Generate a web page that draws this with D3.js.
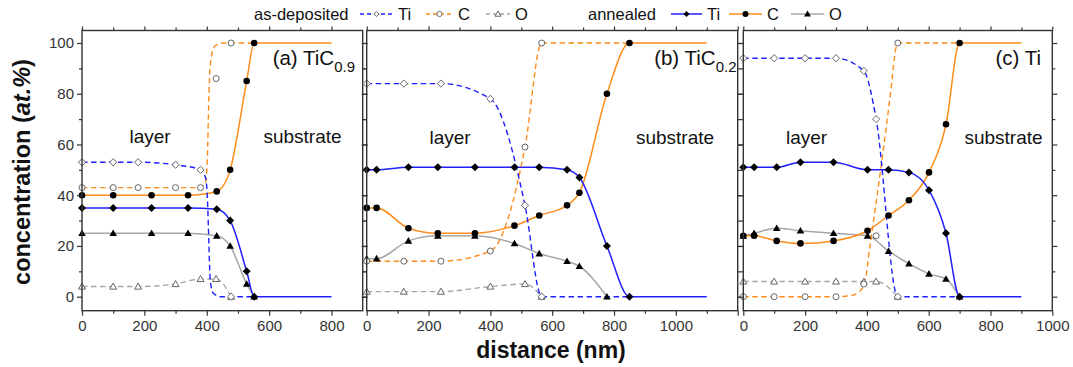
<!DOCTYPE html>
<html><head><meta charset="utf-8">
<script src="https://cdn.jsdelivr.net/npm/d3@7"></script>
<style>body{margin:0;background:#fff}svg{display:block}text{font-family:"Liberation Sans",Arial,sans-serif}</style>
</head><body>
<svg id="chart" width="1073" height="367"></svg>
<script>
// ---------- data ----------
const panelNames = ["a", "b", "c"];
const panelTitles = ["(a) TiC", "(b) TiC", "(c) Ti"];
const panelSubs = ["0.9", "0.2", ""];
const xMaxes = [900, 1200, 1000];
const xEnds = [800, 1100, 900];
const xLabelMaxes = [800, 1000, 1000];
const xTickStep = 200;
const yTicks = [0, 20, 40, 60, 80, 100];

// panel (a) TiC0.9
const aDepX = [0, 100, 180, 300, 380, 430, 478];
const aDepTi = [53, 53, 53, 52, 50, null, 0];
const aDepC = [43, 43, 43, 43, 43, 86, 100];
const aDepO = [4, 4, 4, 5, 7, 7, 0];
const aAnnX = [0, 100, 223, 340, 432, 475, 528, 552];
const aAnnTi = [35, 35, 35, 35, 34.5, 30, 10, 0];
const aAnnC = [40, 40, 40, 40, 41.5, 50, 85, 100];
const aAnnO = [25, 25, 25, 25, 24, 20, 5, 0];
// fitted (as drawn) curves that do not pass through every marker
const aDepTiCurveX = [0, 100, 180, 300, 380, 397, 403, 407, 411, 420, 445, 478];
const aDepTiCurveY = [53, 53, 53, 52, 50, 46.5, 36, 20, 7, 1.5, 0, 0];
const aDepCCurveX = [0, 100, 180, 300, 380, 395, 402, 406, 411, 424, 450, 478];
const aDepCCurveY = [43, 43, 43, 43, 43, 44.5, 55, 75, 91, 98.5, 100, 100];

// panel (b) TiC0.2
const bDepX = [0, 120, 240, 400, 512, 566];
const bDepTi = [84, 84, 84, 78, 36, 0];
const bDepC = [14, 14, 14, 18, 59, 100];
const bDepO = [2, 2, 2, 4, 5, 0];
const bAnnX = [0, 32, 135, 230, 350, 478, 558, 648, 688, 777, 850];
const bAnnTi = [50, 50, 51, 51, 51, 51, 51, 50, 47, 20, 0];
const bAnnC = [35, 35, 27, 25, 25, 28, 32, 36, 41, 80, 100];
const bAnnO = [15, 15, 22, 24, 24, 21, 17, 14, 12, 0, null];

// panel (c) Ti
const cDepX = [0, 100, 200, 300, 390, 430, 500];
const cDepTi = [94, 94, 94, 94, 89, 70, 0];
const cDepC = [0, 0, 0, 0, 5, 24, 100];
const cDepO = [6, 6, 6, 6, 6, 6, 0];
const cAnnX = [0, 35, 108, 185, 292, 402, 470, 536, 601, 656, 700];
const cAnnTi = [51, 51, 51, 53, 53, 50, 50, 49, 42, 25, 0];
const cAnnC = [24, 24, 22, 21, 22, 26, 32, 38, 49, 68, 100];
const cAnnO = [24, 25, 27, 26, 25, 24, 18, 13, 9, 7, 0];
const cDepCCurveX = [0, 100, 200, 300, 350, 375, 392, 410, 480, 493, 500];
const cDepCCurveY = [0, 0, 0, 0, 0.5, 2, 5, 20, 84, 97.5, 100];

// ---------- layout / style ----------
const colTi = "#1f1fff", colC = "#ff8c1a", colO = "#a6a6a6", axisCol = "#333";
const pxRanges = [[82, 362.7], [366.7, 737.7], [743.3, 1052.3]];
const titleRight = [355, 736.5, 1041];
const yTop = 30.5, yBot = 310.7;
const y = d3.scaleLinear().domain([0, 100]).range([296.7, 43]);
const svg = d3.select("#chart");

const zip = (xs, ys) => xs.map((v, i) => [v, ys[i]]).filter(d => d[1] !== null && d[1] !== undefined);
const panels = [
  {dep: {x: aDepX, Ti: aDepTi, C: aDepC, O: aDepO}, ann: {x: aAnnX, Ti: aAnnTi, C: aAnnC, O: aAnnO},
   curves: {Ti: zip(aDepTiCurveX, aDepTiCurveY), C: zip(aDepCCurveX, aDepCCurveY)}},
  {dep: {x: bDepX, Ti: bDepTi, C: bDepC, O: bDepO}, ann: {x: bAnnX, Ti: bAnnTi, C: bAnnC, O: bAnnO}, curves: {}},
  {dep: {x: cDepX, Ti: cDepTi, C: cDepC, O: cDepO}, ann: {x: cAnnX, Ti: cAnnTi, C: cAnnC, O: cAnnO},
   curves: {C: zip(cDepCCurveX, cDepCCurveY)}}
];
const cols = {Ti: colTi, C: colC, O: colO};

function markerPath(kind, r) {
  if (kind === "Ti") return `M0,${-r}L${r},0L0,${r}L${-r},0Z`;
  if (kind === "O") { const h = r * 1.15; return `M0,${-h}L${h},${h * 0.75}L${-h},${h * 0.75}Z`; }
  return d3.symbol().type(d3.symbolCircle).size(Math.PI * r * r)();
}

panels.forEach((p, i) => {
  const x = d3.scaleLinear().domain([0, xMaxes[i]]).range(pxRanges[i]);
  const g = svg.append("g");
  const line = d3.line().x(d => x(d[0])).y(d => y(d[1])).curve(d3.curveMonotoneX);
  const annEnd = p.ann.x[p.ann.x.length - 1];

  // annealed lines
  ["O", "C", "Ti"].forEach(k => {
    const pts = zip(p.ann.x, p.ann[k]);
    if (k !== "O") pts.push([xEnds[i], pts[pts.length - 1][1]]);
    g.append("path").attr("d", line(pts)).attr("fill", "none")
      .attr("stroke", cols[k]).attr("stroke-width", 1.5);
  });
  // as-deposited lines
  ["O", "C", "Ti"].forEach(k => {
    let pts = p.curves[k] ? p.curves[k].slice() : zip(p.dep.x, p.dep[k]);
    if (k !== "O") pts.push([annEnd, pts[pts.length - 1][1]]);
    g.append("path").attr("d", line(pts)).attr("fill", "none")
      .attr("stroke", cols[k]).attr("stroke-width", 1.4).attr("stroke-dasharray", "5.5,3.5");
  });
  // markers
  ["O", "C", "Ti"].forEach(k => {
    g.selectAll(null).data(zip(p.dep.x, p.dep[k])).join("path")
      .attr("transform", d => `translate(${x(d[0])},${y(d[1])})`)
      .attr("d", markerPath(k, k === "Ti" ? 3.6 : 3)).attr("fill", "#fff")
      .attr("stroke", "#666").attr("stroke-width", 1);
    g.selectAll(null).data(zip(p.ann.x, p.ann[k])).join("path")
      .attr("transform", d => `translate(${x(d[0])},${y(d[1])})`)
      .attr("d", markerPath(k, k === "Ti" ? 4 : 3.3)).attr("fill", "#000");
  });

  // frame
  g.append("rect").attr("x", pxRanges[i][0]).attr("y", yTop)
    .attr("width", pxRanges[i][1] - pxRanges[i][0]).attr("height", yBot - yTop)
    .attr("fill", "none").attr("stroke", axisCol).attr("stroke-width", 1.4);

  // x axes
  const major = d3.range(0, xMaxes[i] + 1, xTickStep);
  const minor = d3.range(100, xMaxes[i], xTickStep);
  const xb = g.append("g").attr("transform", `translate(0,${yBot})`)
    .call(d3.axisBottom(x).tickValues(major).tickSize(5).tickPadding(5)
      .tickFormat(d => d <= xLabelMaxes[i] ? d3.format("d")(d) : ""));
  xb.append("g").call(d3.axisBottom(x).tickValues(minor).tickSize(3).tickFormat(""));
  const xt = g.append("g").attr("transform", `translate(0,${yTop})`)
    .call(d3.axisTop(x).tickValues(major).tickSize(4).tickFormat(""));
  xt.append("g").call(d3.axisTop(x).tickValues(minor).tickSize(3).tickFormat(""));
  // y axes
  const yMinor = d3.range(10, 100, 20);
  const yl = g.append("g").attr("transform", `translate(${pxRanges[i][0]},0)`)
    .call(d3.axisLeft(y).tickValues(yTicks).tickSize(5).tickPadding(3).tickFormat(i === 0 ? d3.format("d") : ""));
  yl.append("g").call(d3.axisLeft(y).tickValues(yMinor).tickSize(3).tickFormat(""));
  const yr = g.append("g").attr("transform", `translate(${pxRanges[i][1]},0)`)
    .call(d3.axisRight(y).tickValues(yTicks).tickSize(5).tickFormat(""));
  yr.append("g").call(d3.axisRight(y).tickValues(yMinor).tickSize(3).tickFormat(""));
  g.selectAll(".domain").remove();
  g.selectAll(".tick line").attr("stroke", axisCol).attr("stroke-width", 1.2);
  g.selectAll(".tick text").attr("fill", "#333").style("font-size", "15px")
    .style("font-family", '"Liberation Sans",Arial,sans-serif');

  // panel title
  const t = g.append("text").attr("x", titleRight[i])
    .attr("y", 65).attr("text-anchor", "end").attr("fill", "#111").style("font-size", "20.5px");
  t.append("tspan").text(panelTitles[i]);
  if (panelSubs[i]) t.append("tspan").attr("dy", 7).style("font-size", "15px").text(panelSubs[i]);
});

// region labels
const regionLabels = [
  {t: "layer", x: 150, p: 0}, {t: "substrate", x: 302.5, p: 0},
  {t: "layer", x: 450, p: 1}, {t: "substrate", x: 675, p: 1},
  {t: "layer", x: 806.5, p: 2}, {t: "substrate", x: 1003.5, p: 2}
];
svg.selectAll(null).data(regionLabels).join("text")
  .attr("x", d => d.x).attr("y", d => d.p === 0 ? 143 : 144).attr("text-anchor", "middle")
  .attr("fill", "#111").style("font-size", "19px").text(d => d.t);

// axis titles
svg.append("text").attr("transform", "translate(30,172) rotate(-90)").attr("text-anchor", "middle")
  .style("font-size", "23.5px").style("font-weight", "bold").attr("fill", "#111")
  .call(s => { s.append("tspan").text("concentration ("); s.append("tspan").style("font-style", "italic").text("at.%"); s.append("tspan").text(")"); });
svg.append("text").attr("x", 551).attr("y", 358).attr("text-anchor", "middle")
  .style("font-size", "23px").style("font-weight", "bold").attr("fill", "#111").text("distance (nm)");

// legend
const legY = 14;
const legend = svg.append("g");
legend.append("text").attr("x", 254).attr("y", legY + 6).style("font-size", "16.5px").attr("fill", "#111").text("as-deposited");
legend.append("text").attr("x", 588).attr("y", legY + 6).style("font-size", "16.5px").attr("fill", "#111").text("annealed");
const legItems = [
  {k: "Ti", x0: 360, x1: 393, dep: true}, {k: "C", x0: 426, x1: 453, dep: true}, {k: "O", x0: 486, x1: 510, dep: true},
  {k: "Ti", x0: 671, x1: 702, dep: false}, {k: "C", x0: 729, x1: 762, dep: false}, {k: "O", x0: 791, x1: 824, dep: false}
];
legItems.forEach(d => {
  legend.append("line").attr("x1", d.x0).attr("x2", d.x1).attr("y1", legY).attr("y2", legY)
    .attr("stroke", cols[d.k]).attr("stroke-width", 1.5).attr("stroke-dasharray", d.dep ? "4,3" : null);
  legend.append("path").attr("transform", `translate(${(d.x0 + d.x1) / 2},${legY})`)
    .attr("d", markerPath(d.k, d.dep ? 2.6 : 3)).attr("fill", d.dep ? "#fff" : "#000")
    .attr("stroke", d.dep ? "#666" : "none");
  legend.append("text").attr("x", d.x1 + 5).attr("y", legY + 6).style("font-size", "16.5px").attr("fill", "#111").text(d.k);
});
</script>
</body></html>
